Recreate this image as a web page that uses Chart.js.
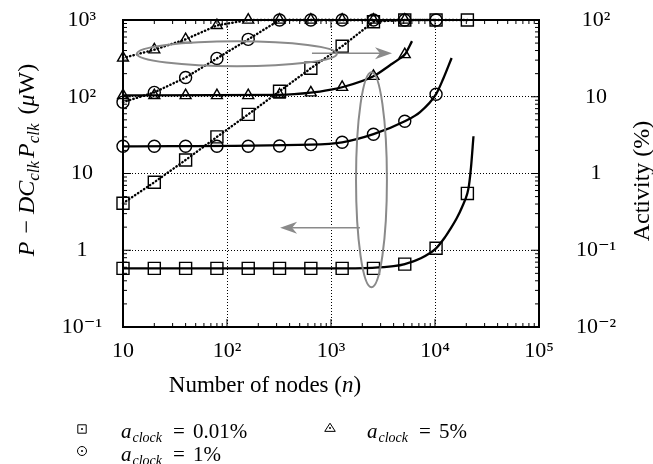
<!DOCTYPE html>
<html>
<head>
<meta charset="utf-8">
<script src="https://cdn.jsdelivr.net/npm/chart.js@4.4.0/dist/chart.umd.min.js"></script>
<style>
  html, body { margin: 0; padding: 0; background: #fff; }
</style>
</head>
<body>
<canvas id="chart" width="653" height="464"></canvas>
<script>
// node counts of the simulated networks
const nodes = [10, 20, 40, 80, 160, 320, 640, 1280, 2560, 5120, 10240, 20480];

// clock activity settings (legend)
const clockActivity = ['0.01%', '1%', '5%'];

// measured power P - DC_clk P_clk (uW), left axis
const powerLow = [0.58, 0.58, 0.58, 0.58, 0.58, 0.58, 0.58, 0.58, 0.58, 0.66, 1.06, 5.5];
const powerMid = [22.6, 22.6, 22.6, 22.6, 22.6, 22.8, 23.8, 25.5, 32.5, 48, 108];
const powerHigh = [104, 104, 104, 104, 104, 106, 113, 133, 185, 355];

// activity (%), right axis
const activityLow = [0.41, 0.77, 1.5, 3.0, 5.9, 11.8, 23.5, 45.5, 95, 100, 100, 100];
const activityMid = [8.5, 11.4, 17.8, 31.6, 56, 100, 100, 100, 100, 100, 100];
const activityHigh = [32, 41, 56, 85, 100, 100, 100, 100, 100, 100];

// model curves (left axis)
const fitLowN = [10, 1000, 2500, 4000, 5120, 7200, 10240, 12480, 13930, 16170, 18180, 20480, 21230, 22200, 23440];
const fitLowP = [0.58, 0.58, 0.59, 0.62, 0.66, 0.78, 1.06, 1.48, 1.86, 2.61, 3.64, 5.54, 7.05, 12.1, 30.6];
const fitMidN = [10, 640, 1280, 2560, 5120, 7180, 10240, 12030, 14450];
const fitMidP = [22.6, 23.8, 25.5, 32.5, 48, 63, 108, 173, 320];
const fitHighN = [10, 320, 640, 1000, 1280, 2560, 3690, 4600, 5120, 6010];
const fitHighP = [104, 106, 113, 124, 133, 185, 257, 316, 355, 530];

// tick labels
const xTicks = [10, 100, 1000, 10000, 100000];
const yTicks = [0.1, 1, 10, 100, 1000];
const y2Ticks = [0.01, 0.1, 1, 10, 100];

const SERIF = '"Liberation Serif", "DejaVu Serif", serif';
const GRAY = '#8a8a8a';

function pts(xs, ys) {
  return ys.map((y, i) => ({ x: xs[i], y: y }));
}

const SUP = { '-': '\u207B', '0': '\u2070', '1': '\u00B9', '2': '\u00B2', '3': '\u00B3', '4': '\u2074', '5': '\u2075' };
function powLabel(v) {
  const e = Math.round(Math.log10(v));
  if (e === 0) return '1';
  if (e === 1) return '10';
  return '10' + String(e).split('').map(c => SUP[c]).join('');
}

// gray call-outs, placed in data units (x: nodes, y: left axis)
const callouts = {
  ellipses: [
    { x0: 13.6, x1: 1140, y0: 250, y1: 528 },
    { x0: 1740, x1: 3450, y0: 0.33, y1: 208 }
  ],
  arrows: [
    { x0: 656, x1: 3860, y: 369 },
    { x0: 1900, x1: 324, y: 1.96 }
  ]
};

function drawRich(ctx, parts, x, y) {
  let cx = x;
  for (const p of parts) {
    ctx.font = (p.it ? 'italic ' : '') + p.size + 'px ' + SERIF;
    ctx.fillText(p.t, cx, y + (p.dy || 0));
    cx += ctx.measureText(p.t).width + (p.gap || 0);
  }
  return cx - x;
}
function richWidth(ctx, parts) {
  let w = 0;
  for (const p of parts) {
    ctx.font = (p.it ? 'italic ' : '') + p.size + 'px ' + SERIF;
    w += ctx.measureText(p.t).width + (p.gap || 0);
  }
  return w;
}

function marker(ctx, style, x, y, s) {
  ctx.beginPath();
  if (style === 'rect') ctx.rect(x - s, y - s, 2 * s, 2 * s);
  else if (style === 'circle') ctx.arc(x, y, s, 0, Math.PI * 2);
  else {
    ctx.moveTo(x, y - s);
    ctx.lineTo(x + s * 1.1, y + s * 0.7);
    ctx.lineTo(x - s * 1.1, y + s * 0.7);
    ctx.closePath();
  }
  ctx.stroke();
  ctx.beginPath();
  ctx.arc(x, y, 1, 0, Math.PI * 2);
  ctx.fill();
}

const frame = {
  id: 'frame',
  afterDatasetsDraw(chart) {
    const { ctx, chartArea: a, scales } = chart;
    ctx.save();
    ctx.strokeStyle = '#000';
    ctx.lineWidth = 1;
    const seg = (x0, y0, x1, y1) => { ctx.beginPath(); ctx.moveTo(x0, y0); ctx.lineTo(x1, y1); ctx.stroke(); };
    // inward ticks, majors at decades, minors in between
    for (let d = 1; d < 5; d++) {
      for (let k = 1; k < 10; k++) {
        const px = scales.x.getPixelForValue(k * Math.pow(10, d));
        const len = k === 1 ? 8 : 4;
        seg(px, a.bottom, px, a.bottom - len);
        seg(px, a.top, px, a.top + len);
      }
    }
    for (let d = -1; d < 3; d++) {
      for (let k = 1; k < 10; k++) {
        const py = scales.y.getPixelForValue(k * Math.pow(10, d));
        const len = k === 1 ? 8 : 4;
        seg(a.left, py, a.left + len, py);
        const py2 = scales.y2.getPixelForValue(k * Math.pow(10, d - 1));
        seg(a.right, py2, a.right - len, py2);
      }
    }
    ctx.lineWidth = 2;
    ctx.strokeRect(a.left, a.top, a.right - a.left, a.bottom - a.top);

    // call-outs
    ctx.strokeStyle = GRAY;
    ctx.fillStyle = GRAY;
    ctx.lineWidth = 2;
    for (const e of callouts.ellipses) {
      const l = scales.x.getPixelForValue(e.x0), r = scales.x.getPixelForValue(e.x1);
      const t = scales.y.getPixelForValue(e.y1), b = scales.y.getPixelForValue(e.y0);
      ctx.beginPath();
      ctx.ellipse((l + r) / 2, (t + b) / 2, (r - l) / 2, (b - t) / 2, 0, 0, Math.PI * 2);
      ctx.stroke();
    }
    for (const ar of callouts.arrows) {
      const x0 = scales.x.getPixelForValue(ar.x0), x1 = scales.x.getPixelForValue(ar.x1);
      const y = scales.y.getPixelForValue(ar.y);
      const dir = Math.sign(x1 - x0);
      const hl = 17, hw = 6, notch = 12;
      ctx.lineWidth = 1.6;
      seg(x0, y, x1 - dir * notch, y);
      ctx.beginPath();
      ctx.moveTo(x1, y);
      ctx.lineTo(x1 - dir * hl, y - hw);
      ctx.lineTo(x1 - dir * notch, y);
      ctx.lineTo(x1 - dir * hl, y + hw);
      ctx.closePath();
      ctx.fill();
    }
    ctx.restore();
  },
  afterDraw(chart) {
    const ctx = chart.ctx;
    ctx.save();
    ctx.fillStyle = '#000';
    ctx.strokeStyle = '#000';
    ctx.textBaseline = 'alphabetic';

    // x title
    const xt = [
      { t: 'Number of nodes (', size: 23 },
      { t: 'n', it: true, size: 23 },
      { t: ')', size: 23 }
    ];
    drawRich(ctx, xt, 265 - richWidth(ctx, xt) / 2, 392);

    // left title
    const lt = [
      { t: 'P', it: true, size: 24, gap: 2 },
      { t: ' \u2212 ', size: 24 },
      { t: 'DC', it: true, size: 24 },
      { t: 'clk', it: true, size: 17, dy: 5, gap: 3 },
      { t: 'P', it: true, size: 24 },
      { t: 'clk', it: true, size: 17, dy: 5, gap: 9 },
      { t: '(', size: 24 },
      { t: '\u03BC', it: true, size: 24 },
      { t: 'W)', size: 24 }
    ];
    ctx.save();
    ctx.translate(34, 160);
    ctx.rotate(-Math.PI / 2);
    drawRich(ctx, lt, -richWidth(ctx, lt) / 2, 0);
    ctx.restore();

    // right title
    ctx.save();
    ctx.translate(649, 181);
    ctx.rotate(-Math.PI / 2);
    ctx.font = '24px ' + SERIF;
    ctx.textAlign = 'center';
    ctx.fillText('Activity (%)', 0, 0);
    ctx.restore();

    // legend
    const items = [
      { style: 'rect', sx: 82, sy: 429, tx: 121, ty: 438, s: 4.2 },
      { style: 'circle', sx: 82, sy: 451, tx: 121, ty: 461, s: 4.5 },
      { style: 'triangle', sx: 330, sy: 428, tx: 367, ty: 438, s: 4.8 }
    ];
    ctx.lineWidth = 1;
    items.forEach((it, i) => {
      marker(ctx, it.style, it.sx, it.sy, it.s);
      const x = it.tx;
      drawRich(ctx, [
        { t: 'a', it: true, size: 21, gap: 1 },
        { t: 'clock', it: true, size: 14, dy: 4 }
      ], x, it.ty);
      ctx.font = '21px ' + SERIF;
      ctx.fillText('=', x + 52, it.ty);
      ctx.fillText(clockActivity[i], x + 72, it.ty);
    });
    ctx.restore();
  }
};

const solid = {
  yAxisID: 'y', borderColor: '#000', borderWidth: 2.3, pointRadius: 0,
  cubicInterpolationMode: 'monotone', fill: false
};
const dotted = {
  yAxisID: 'y2', borderColor: '#000', borderWidth: 2.4, borderDash: [0.4, 3.2], borderCapStyle: 'round',
  pointBorderColor: '#000', pointBackgroundColor: 'rgba(0,0,0,0)', pointBorderWidth: 1.4, fill: false
};
const marks = {
  yAxisID: 'y', showLine: false, pointBorderColor: '#000',
  pointBackgroundColor: 'rgba(0,0,0,0)', pointBorderWidth: 1.4
};

// fixed plot box: no automatic padding from labels or markers
function noPad(s) {
  s.paddingTop = 0; s.paddingBottom = 0; s.paddingLeft = 0; s.paddingRight = 0;
}

new Chart(document.getElementById('chart'), {
  type: 'line',
  data: {
    datasets: [
      Object.assign({ data: pts(nodes, powerLow), pointStyle: 'rect', pointRadius: 8.5 }, marks),
      Object.assign({ data: pts(nodes, powerMid), pointStyle: 'circle', pointRadius: 6 }, marks),
      Object.assign({ data: pts(nodes, powerHigh), pointStyle: 'triangle', pointRadius: 6.3 }, marks),
      Object.assign({ data: pts(nodes, activityLow), pointStyle: 'rect', pointRadius: 8.5 }, dotted),
      Object.assign({ data: pts(nodes, activityMid), pointStyle: 'circle', pointRadius: 6 }, dotted),
      Object.assign({ data: pts(nodes, activityHigh), pointStyle: 'triangle', pointRadius: 6.3 }, dotted),
      Object.assign({ data: pts(fitLowN, fitLowP) }, solid),
      Object.assign({ data: pts(fitMidN, fitMidP) }, solid),
      Object.assign({ data: pts(fitHighN, fitHighP) }, solid)
    ]
  },
  options: {
    responsive: false,
    animation: false,
    events: [],
    clip: false,
    layout: { autoPadding: false, padding: { top: 20, left: 0, right: 0, bottom: 0 } },
    plugins: { legend: { display: false }, tooltip: { enabled: false } },
    scales: {
      x: {
        type: 'logarithmic', position: 'bottom', min: 10, max: 100000,
        afterBuildTicks: s => { s.ticks = xTicks.map(v => ({ value: v })); },
        afterFit: s => { s.height = 137; noPad(s); },
        grid: { color: '#000', lineWidth: 1, drawTicks: false },
        border: { display: false, dash: [1, 2] },
        ticks: {
          callback: v => powLabel(v), color: '#000', padding: 11,
          font: { family: SERIF, size: 22 }, maxRotation: 0, autoSkip: false
        }
      },
      y: {
        type: 'logarithmic', position: 'left', min: 0.1, max: 1000,
        afterBuildTicks: s => { s.ticks = yTicks.map(v => ({ value: v })); },
        afterFit: s => { s.width = 123; noPad(s); },
        grid: { color: '#000', lineWidth: 1, drawTicks: false },
        border: { display: false, dash: [1, 2] },
        ticks: {
          callback: v => powLabel(v), color: '#000', padding: 21, crossAlign: 'center',
          font: { family: SERIF, size: 22 }, autoSkip: false
        }
      },
      y2: {
        type: 'logarithmic', position: 'right', min: 0.01, max: 100,
        afterBuildTicks: s => { s.ticks = y2Ticks.map(v => ({ value: v })); },
        afterFit: s => { s.width = 114; noPad(s); },
        grid: { display: false },
        border: { display: false },
        ticks: {
          callback: v => powLabel(v), color: '#000', padding: 29, crossAlign: 'center',
          font: { family: SERIF, size: 22 }, autoSkip: false
        }
      }
    }
  },
  plugins: [frame]
});
</script>
</body>
</html>
